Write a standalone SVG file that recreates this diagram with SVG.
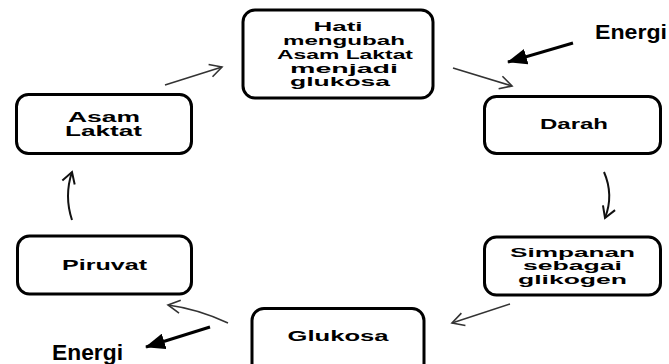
<svg xmlns="http://www.w3.org/2000/svg" width="669" height="364" viewBox="0 0 669 364">
<style>
.box{fill:#fff;stroke:#000;stroke-width:3}
.t{font-family:"Liberation Sans",Arial,sans-serif;font-weight:bold;font-size:14px;fill:#000;text-anchor:middle}
.m{font-size:12.5px}
.e{font-family:"Liberation Sans",Arial,sans-serif;font-weight:bold;font-size:21px;fill:#000}
.c{fill:none;stroke:#333;stroke-width:1.5;marker-end:url(#open)}
.cv{fill:none;stroke:#111;stroke-width:2;marker-end:url(#open2)}
.k{fill:none;stroke:#000;stroke-width:3;marker-end:url(#solid)}
</style>
<defs>
<marker id="open" markerUnits="userSpaceOnUse" markerWidth="16" markerHeight="16" viewBox="0 0 16 16" refX="14" refY="8" orient="auto">
<path d="M2,1.5 L14,8 L2,14.5" fill="none" stroke="#333" stroke-width="1.6"/>
</marker>
<marker id="open2" markerUnits="userSpaceOnUse" markerWidth="16" markerHeight="16" viewBox="0 0 16 16" refX="14" refY="8" orient="auto">
<path d="M3,1.5 L14,8 L3,14.5" fill="none" stroke="#111" stroke-width="2"/>
</marker>
<marker id="solid" markerUnits="userSpaceOnUse" markerWidth="20" markerHeight="16" viewBox="0 0 20 16" refX="19" refY="8" orient="auto">
<path d="M0,0 L20,8 L0,16 Z" fill="#000"/>
</marker>
</defs>
<g id="connectors">
<path class="c" d="M165,85 L222,67"/>
<path class="c" d="M453,68 L512,86"/>
<path class="cv" d="M604,172 Q614,195 605,218"/>
<path class="c" d="M510,304 L452,323"/>
<path class="c" d="M228,323 Q198,309 168,305"/>
<path class="cv" d="M72,220 Q64,196 72,172"/>
<path class="k" d="M573,43 L508,62"/>
<path class="k" d="M210,327 L146,347"/>
</g>
<g id="hati">
<rect class="box" x="243" y="10" width="190" height="88" rx="12"/>
<text class="t m" x="338" y="31" textLength="49" lengthAdjust="spacingAndGlyphs">Hati</text>
<text class="t m" x="344" y="45" textLength="122" lengthAdjust="spacingAndGlyphs">mengubah</text>
<text class="t m" x="345" y="59" textLength="136" lengthAdjust="spacingAndGlyphs">Asam Laktat</text>
<text class="t m" x="344" y="72.5" textLength="108" lengthAdjust="spacingAndGlyphs">menjadi</text>
<text class="t m" x="340" y="86" textLength="100" lengthAdjust="spacingAndGlyphs">glukosa</text>
</g>
<g id="darah">
<rect class="box" x="484.5" y="96.5" width="176" height="57" rx="12"/>
<text class="t" x="574" y="129" textLength="68" lengthAdjust="spacingAndGlyphs">Darah</text>
</g>
<g id="simpanan">
<rect class="box" x="484.5" y="237" width="176" height="58" rx="12"/>
<text class="t m" x="572.5" y="256.5" textLength="125" lengthAdjust="spacingAndGlyphs">Simpanan</text>
<text class="t m" x="572.5" y="270" textLength="99" lengthAdjust="spacingAndGlyphs">sebagai</text>
<text class="t m" x="572.5" y="283.5" textLength="109" lengthAdjust="spacingAndGlyphs">glikogen</text>
</g>
<g id="glukosa">
<rect class="box" x="252" y="308.5" width="172" height="72" rx="12"/>
<text class="t" x="338" y="341" textLength="101" lengthAdjust="spacingAndGlyphs">Glukosa</text>
</g>
<g id="piruvat">
<rect class="box" x="17.5" y="236" width="174" height="58" rx="12"/>
<text class="t" x="104.5" y="270" textLength="85" lengthAdjust="spacingAndGlyphs">Piruvat</text>
</g>
<g id="asam">
<rect class="box" x="16.5" y="94.5" width="175" height="59" rx="12"/>
<text class="t" x="104" y="121.5" textLength="72" lengthAdjust="spacingAndGlyphs">Asam</text>
<text class="t" x="103.5" y="136" textLength="77" lengthAdjust="spacingAndGlyphs">Laktat</text>
</g>
<g id="energi1">
<text class="e" x="595" y="39" textLength="72" lengthAdjust="spacingAndGlyphs">Energi</text>
</g>
<g id="energi2">
<text class="e" x="52" y="360" textLength="71" lengthAdjust="spacingAndGlyphs" style="font-size:22px">Energi</text>
</g>
</svg>
